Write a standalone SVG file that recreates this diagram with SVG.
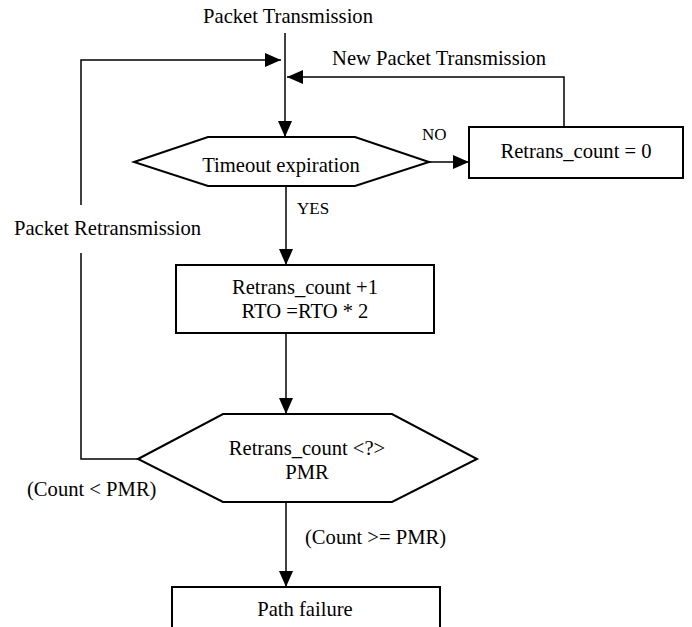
<svg xmlns="http://www.w3.org/2000/svg" width="692" height="627" viewBox="0 0 692 627">
<style>
.t{font-family:"Liberation Serif","Times New Roman",serif;font-size:20.6px;fill:#000}
.s{font-size:17px}
.n{fill:#fff;stroke:#000;stroke-width:2}
.c{fill:none;stroke:#000;stroke-width:1.5}
</style>
<defs>
<marker id="a" markerUnits="userSpaceOnUse" markerWidth="16" markerHeight="14" refX="16" refY="7" orient="auto">
<path d="M0,0 L16,7 L0,14 Z" fill="#000"/>
</marker>
</defs>
<rect width="692" height="627" fill="#fff"/>
<g id="connectors">
<path class="c" d="M285,33 V137" marker-end="url(#a)"/>
<path class="c" d="M81,205 V60 H281" marker-end="url(#a)"/>
<path class="c" d="M138,459 H81 V253"/>
<path class="c" d="M564,127 V77 H287" marker-end="url(#a)"/>
<path class="c" d="M429,162 H469" marker-end="url(#a)"/>
<path class="c" d="M286,186 V265" marker-end="url(#a)"/>
<path class="c" d="M286,333 V414" marker-end="url(#a)"/>
<path class="c" d="M286,502 V587" marker-end="url(#a)"/>
</g>
<g id="labels">
<text class="t" x="288" y="23" text-anchor="middle">Packet Transmission</text>
<text class="t" x="439" y="65" text-anchor="middle">New Packet Transmission</text>
<text class="t s" x="422" y="140">NO</text>
<text class="t s" x="297" y="214">YES</text>
<text class="t" x="14" y="235">Packet Retransmission</text>
<text class="t" x="27" y="496">(Count &lt; PMR)</text>
<text class="t" x="305" y="544">(Count &gt;= PMR)</text>
</g>
<g id="timeout">
<polygon class="n" points="134,162 208,137 355,137 429,162 355,186 208,186"/>
<text class="t" x="281" y="172" text-anchor="middle">Timeout expiration</text>
</g>
<g id="reset">
<rect class="n" x="469" y="127" width="214" height="51"/>
<text class="t" x="576" y="158" text-anchor="middle">Retrans_count = 0</text>
</g>
<g id="increment">
<rect class="n" x="176" y="265" width="258" height="68"/>
<text class="t" x="305" y="294" text-anchor="middle">Retrans_count +1</text>
<text class="t" x="305" y="318" text-anchor="middle">RTO =RTO * 2</text>
</g>
<g id="compare">
<polygon class="n" points="138,459 223,414 392,414 477,459 392,502 223,502"/>
<text class="t" x="307" y="455" text-anchor="middle">Retrans_count &lt;?&gt;</text>
<text class="t" x="307" y="479" text-anchor="middle">PMR</text>
</g>
<g id="failure">
<rect class="n" x="172" y="587" width="268" height="60"/>
<text class="t" x="305" y="616" text-anchor="middle">Path failure</text>
</g>
</svg>
